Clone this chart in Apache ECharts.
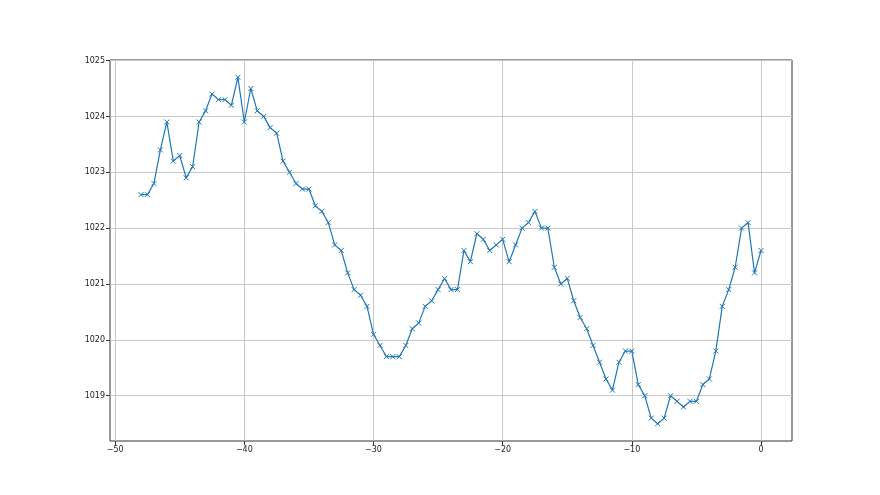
<!DOCTYPE html>
<html>
<head>
<meta charset="utf-8">
<script src="https://cdn.jsdelivr.net/npm/echarts@6/dist/echarts.min.js"></script>
<style>html,body{margin:0;padding:0;background:#fff;}#chart{width:880px;height:495px;}</style>
</head>
<body>
<div id="chart"></div>
<script>
// x positions (time offsets)
const xValues = [-48,-47.5,-47,-46.5,-46,-45.5,-45,-44.5,-44,-43.5,-43,-42.5,-42,-41.5,-41,-40.5,-40,-39.5,-39,-38.5,-38,-37.5,-37,-36.5,-36,-35.5,-35,-34.5,-34,-33.5,-33,-32.5,-32,-31.5,-31,-30.5,-30,-29.5,-29,-28.5,-28,-27.5,-27,-26.5,-26,-25.5,-25,-24.5,-24,-23.5,-23,-22.5,-22,-21.5,-21,-20.5,-20,-19.5,-19,-18.5,-18,-17.5,-17,-16.5,-16,-15.5,-15,-14.5,-14,-13.5,-13,-12.5,-12,-11.5,-11,-10.5,-10,-9.5,-9,-8.5,-8,-7.5,-7,-6.5,-6,-5.5,-5,-4.5,-4,-3.5,-3,-2.5,-2,-1.5,-1,-0.5,0];
// pressure values
const pressure = [1022.6,1022.6,1022.8,1023.4,1023.9,1023.2,1023.3,1022.9,1023.1,1023.9,1024.1,1024.4,1024.3,1024.3,1024.2,1024.7,1023.9,1024.5,1024.1,1024.0,1023.8,1023.7,1023.2,1023.0,1022.8,1022.7,1022.7,1022.4,1022.3,1022.1,1021.7,1021.6,1021.2,1020.9,1020.8,1020.6,1020.1,1019.9,1019.7,1019.7,1019.7,1019.9,1020.2,1020.3,1020.6,1020.7,1020.9,1021.1,1020.9,1020.9,1021.6,1021.4,1021.9,1021.8,1021.6,1021.7,1021.8,1021.4,1021.7,1022.0,1022.1,1022.3,1022.0,1022.0,1021.3,1021.0,1021.1,1020.7,1020.4,1020.2,1019.9,1019.6,1019.3,1019.1,1019.6,1019.8,1019.8,1019.2,1019.0,1018.6,1018.5,1018.6,1019.0,1018.9,1018.8,1018.9,1018.9,1019.2,1019.3,1019.8,1020.6,1020.9,1021.3,1022.0,1022.1,1021.2,1021.6];
// tick labels
const xTicks = [-50,-40,-30,-20,-10,0];
const yTicks = [1019,1020,1021,1022,1023,1024,1025];

const data = xValues.map((x, i) => [x, pressure[i]]);
const font = {fontFamily: 'DejaVu Sans', fontSize: 8, color: '#222'};
const chart = echarts.init(document.getElementById('chart'), null, {renderer: 'canvas'});
chart.setOption({
  animation: false,
  backgroundColor: '#fff',
  grid: {left: 110, right: 88, top: 60, bottom: 54, show: true, borderColor: '#333', borderWidth: 1, backgroundColor: 'transparent'},
  xAxis: {
    type: 'value', min: -50.4, max: 2.4,
    axisLine: {show: false, onZero: false},
    axisTick: {show: true, inside: false, length: 4, lineStyle: {color: '#333'}, customValues: xTicks},
    axisLabel: Object.assign({margin: 5, customValues: xTicks, formatter: v => (v < 0 ? '\u2212' + Math.abs(v) : String(v))}, font),
    splitLine: {show: true, lineStyle: {color: '#c8c8c8', width: 1}}
  },
  yAxis: {
    type: 'value', min: 1018.19, max: 1025.01,
    axisLine: {show: false, onZero: false},
    axisTick: {show: true, inside: false, length: 4, lineStyle: {color: '#333'}, customValues: yTicks},
    axisLabel: Object.assign({margin: 5, customValues: yTicks, formatter: v => String(v)}, font),
    splitLine: {show: true, lineStyle: {color: '#c8c8c8', width: 1}}
  },
  series: [{
    type: 'line',
    data: data,
    symbol: 'path://M0,0L10,10M10,0L0,10',
    symbolSize: 5,
    showSymbol: true,
    lineStyle: {color: '#1f77b4', width: 1.2},
    itemStyle: {color: 'rgba(0,0,0,0)', borderColor: '#1f77b4', borderWidth: 1},
    emphasis: {disabled: true}
  }]
});
</script>
</body>
</html>
